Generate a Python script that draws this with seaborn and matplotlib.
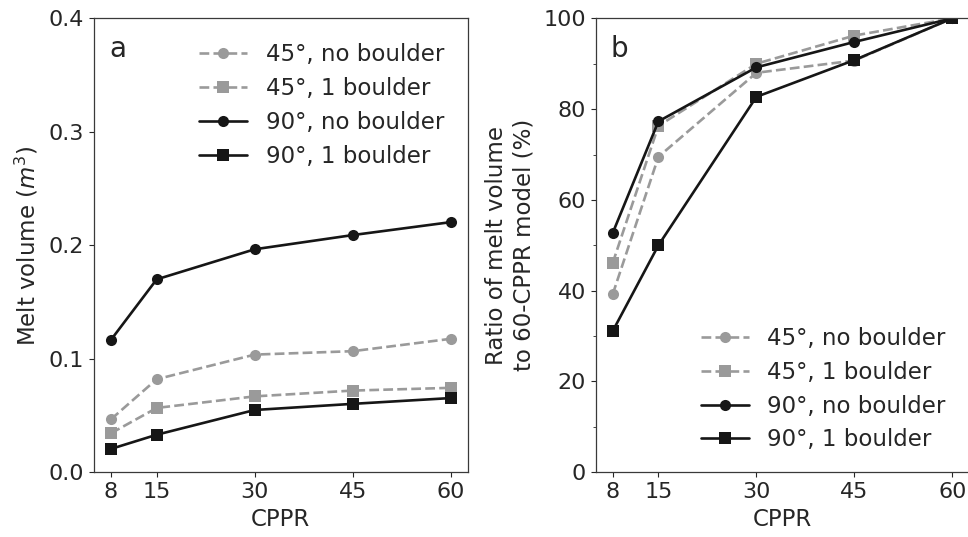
import numpy as np
import pandas as pd
import matplotlib
matplotlib.use("Agg")
import matplotlib.pyplot as plt
from matplotlib.ticker import MultipleLocator
import seaborn as sns

# CPPR values on the x axis
cppr = [8, 15, 30, 45, 60]

# panel a: melt volume (m^3)
vol_45_no = [0.0467, 0.082, 0.1037, 0.1067, 0.1176]
vol_45_one = [0.0344, 0.0567, 0.0669, 0.072, 0.0744]
vol_90_no = [0.1167, 0.170, 0.1965, 0.209, 0.2204]
vol_90_one = [0.0206, 0.0331, 0.0549, 0.0603, 0.0654]

# panel b: ratio to the 60-CPPR model (%)
ratio_45_no = [39.2, 69.5, 88.0, 90.7, 100]
ratio_45_one = [46.1, 76.3, 90.0, 96.2, 100]
ratio_90_no = [52.7, 77.3, 89.2, 94.8, 100]
ratio_90_one = [31.1, 50.0, 82.7, 90.8, 100]

labels = ["45°, no boulder", "45°, 1 boulder", "90°, no boulder", "90°, 1 boulder"]
GREY = "#9a9a9a"
BLACK = "#161616"
styles = [(GREY, "--", "o"), (GREY, "--", "s"), (BLACK, "-", "o"), (BLACK, "-", "s")]

sns.set_style("ticks")
plt.rcParams["font.family"] = ["DejaVu Sans"]
plt.rcParams["text.color"] = "#262626"
plt.rcParams["axes.labelcolor"] = "#262626"
plt.rcParams["xtick.color"] = "#262626"
plt.rcParams["ytick.color"] = "#262626"
plt.rcParams["axes.edgecolor"] = "#3a3a3a"
plt.rcParams["axes.linewidth"] = 0.9
plt.rcParams["xtick.major.size"] = 3.5
plt.rcParams["ytick.major.size"] = 3.5
plt.rcParams["ytick.minor.size"] = 2.0


def draw_panel(ax, series, letter, ylabel, ylim, legend_loc, anchor):
    for values, lab, (col, ls, mk) in zip(series, labels, styles):
        df = pd.DataFrame({"CPPR": cppr, "val": values})
        sns.lineplot(data=df, x="CPPR", y="val", ax=ax, color=col, linestyle=ls,
                     marker=mk, markersize=8, markeredgewidth=0, linewidth=1.9,
                     label=lab, errorbar=None)
    ax.set_xticks(cppr)
    ax.set_ylim(*ylim)
    ax.set_xlabel("CPPR", fontsize=16.5)
    ax.set_ylabel(ylabel, fontsize=16.5, labelpad=6)
    ax.tick_params(labelsize=16)
    for s in ax.spines.values():
        s.set_visible(True)
    ax.text(0.04, 0.915, letter, transform=ax.transAxes, fontsize=20,
            ha="left", va="baseline")
    ax.legend(loc=legend_loc, bbox_to_anchor=anchor, frameon=False,
              fontsize=16.5, handlelength=2.1, handletextpad=0.8,
              labelspacing=0.47, borderpad=0, borderaxespad=0)


fig = plt.figure(figsize=(9.68, 5.37), dpi=100)
ax1 = fig.add_axes([0.0971, 0.1205, 0.386, 0.8454])
ax2 = fig.add_axes([0.6154, 0.1205, 0.386, 0.8454])

draw_panel(ax1, [vol_45_no, vol_45_one, vol_90_no, vol_90_one], "a",
           "Melt volume ($m^3$)", (0, 0.4), "upper right", (0.937, 0.945))
ax1.set_yticks([0.0, 0.1, 0.2, 0.3, 0.4])

draw_panel(ax2, [ratio_45_no, ratio_45_one, ratio_90_no, ratio_90_one], "b",
           "Ratio of melt volume\nto 60-CPPR model (%)", (0, 100), "lower right",
           (0.937, 0.046))
ax2.set_yticks([0, 20, 40, 60, 80, 100])
ax2.yaxis.set_minor_locator(MultipleLocator(10))

fig.savefig("out.png", dpi=100)
